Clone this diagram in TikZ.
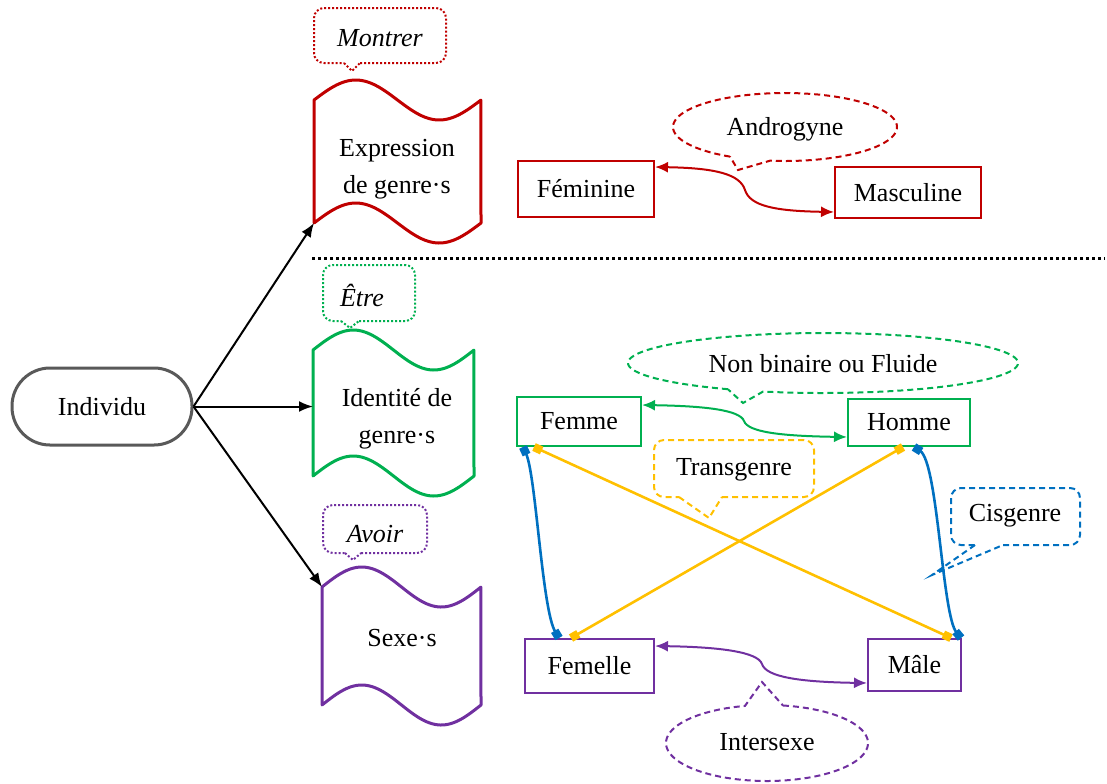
\documentclass[tikz,border=0pt]{standalone}
\usepackage{fontspec}
\setmainfont{Liberation Serif}
\usetikzlibrary{arrows.meta,calc}
\definecolor{cred}{HTML}{C00000}
\definecolor{cgreen}{HTML}{00B050}
\definecolor{cpurple}{HTML}{7030A0}
\definecolor{cblue}{HTML}{0070C0}
\definecolor{cyellow}{HTML}{FFC000}
\definecolor{cgray}{HTML}{595959}
\tikzset{
  txt/.style={inner sep=0pt, align=center},
  lbox/.style={draw, line width=1pt, inner sep=0pt},
  tape/.style={line width=1.5pt, line join=round},
  dotc/.style={line width=1pt, dash pattern=on 1pt off 1pt},
  dashc/.style={line width=1pt, dash pattern=on 3pt off 2pt},
  link/.style={line width=1pt, {Latex[length=6.5pt,width=5.5pt]}-{Latex[length=6.5pt,width=5.5pt]}},
  cross/.style={line width=1.3pt, {Square[length=4.2pt,width=4.2pt]}-{Square[length=4.2pt,width=4.2pt]}},
  feed/.style={line width=1pt, -{Latex[length=7pt,width=5.5pt]}}
}
\begin{document}
\begin{tikzpicture}[x=0.5pt,y=-0.5pt, every node/.style={font=\fontsize{13}{18.5}\selectfont}]
\useasboundingbox (0,0) rectangle (1107,783);

% Individu
\node[draw=cgray, line width=1.5pt, rounded corners=19pt, minimum width=90pt, minimum height=38.5pt, inner sep=0pt] (ind) at (102,406.5) {Individu};

% tapes
\draw[tape, draw=cred] plot[domain=0:1, samples=60] ({314+167*\x},{100-20*sin(360*\x)}) -- plot[domain=1:0, samples=60] ({314+167*\x},{223-20*sin(360*\x)}) -- cycle;
\coordinate (exprBL) at (314,223);
\node[txt] (expr) at (397,169) {Expression\\de genre·s};

\draw[tape, draw=cgreen] plot[domain=0:1, samples=60] ({313+161*\x},{350-20*sin(360*\x)}) -- plot[domain=1:0, samples=60] ({313+161*\x},{476-20*sin(360*\x)}) -- cycle;
\coordinate (identL) at (313,406.5);
\node[txt] (ident) at (397,419) {Identité de\\genre·s};

\draw[tape, draw=cpurple] plot[domain=0:1, samples=60] ({322+159*\x},{587-20*sin(360*\x)}) -- plot[domain=1:0, samples=60] ({322+159*\x},{705-20*sin(360*\x)}) -- cycle;
\coordinate (sexeTL) at (322,587);
\node[txt] (sexe) at (402,638) {Sexe·s};

\draw[feed] (ind.east) -- (exprBL);
\draw[feed] (ind.east) -- (identL);
\draw[feed] (ind.east) -- (sexeTL);

% dotted callouts
\draw[dotc, draw=cred, rounded corners=5pt] (360,63) -- (446,63) -- (446,8) -- (314,8) -- (314,63) -- (344,63);
\draw[dotc, draw=cred] (344,63) -- (352,71) -- (360,63);
\node[txt] (montrer) at (380,38) {\itshape Montrer};

\draw[dotc, draw=cgreen, rounded corners=5pt] (359,321) -- (415,321) -- (415,265) -- (323,265) -- (323,321) -- (341,321);
\draw[dotc, draw=cgreen] (341,321) -- (350,328) -- (359,321);
\node[txt] (etre) at (362,295) {\itshape Être};

\draw[dotc, draw=cpurple, rounded corners=5pt] (361,553) -- (427,553) -- (427,505) -- (323,505) -- (323,553) -- (345,553);
\draw[dotc, draw=cpurple] (345,553) -- (353,560) -- (361,553);
\node[txt] (avoir) at (375,534) {\itshape Avoir};

% separator
\draw[line width=1.5pt, dash pattern=on 1.5pt off 1.5pt] (312,258) -- (1105,258);

% expression
\node[lbox, draw=cred, minimum width=68pt, minimum height=28pt] (fem) at (586,189) {Féminine};
\node[lbox, draw=cred, minimum width=73pt, minimum height=25.5pt] (masc) at (908,192.5) {Masculine};
\draw[link, cred] ([yshift=-3.5pt]fem.north east) .. controls (715,168) and (740,174) .. (745,190) .. controls (750,206) and (775,211) .. ([yshift=3.5pt]masc.south west);
\draw[dashc, draw=cred] plot[domain=119.4:457.7, samples=120] ({785+112*cos(\x)},{127+34*sin(\x)}) -- (738,170) -- cycle;
\node[txt] (andro) at (785,129) {Androgyne};

% identity
\node[lbox, draw=cgreen, minimum width=62pt, minimum height=24.5pt] (femme) at (579,421.5) {Femme};
\node[lbox, draw=cgreen, minimum width=61pt, minimum height=23.5pt] (homme) at (909,422.5) {Homme};
\draw[link, cgreen] ([yshift=-4.5pt]femme.north east) .. controls (705,406) and (740,410) .. (744,421) .. controls (748,432) and (780,436) .. ([yshift=5pt]homme.south west);
\draw[dashc, draw=cgreen] plot[domain=119.2:467.9, samples=150] ({823+195*cos(\x)},{363+30*sin(\x)}) -- (743,403) -- cycle;
\node[txt] (nonbin) at (823,364) {Non binaire ou Fluide};

% sex
\node[lbox, draw=cpurple, minimum width=64.5pt, minimum height=27pt] (femelle) at (589.5,666) {Femelle};
\node[lbox, draw=cpurple, minimum width=46.5pt, minimum height=26pt] (male) at (914.5,665) {Mâle};
\draw[link, cpurple] ([yshift=-4pt]femelle.north east) .. controls (720,647) and (758,652) .. (762,664) .. controls (766,677) and (800,682) .. ([yshift=4.5pt]male.south west);
\draw[dashc, draw=cpurple] plot[domain=279.1:617.4, samples=120] ({767+101*cos(\x)},{743+38*sin(\x)}) -- (762,682) -- cycle;
\node[txt] (inter) at (767,742) {Intersexe};

% cross links
\draw[cross, cyellow] ([xshift=9pt]femme.south west) -- ([xshift=-5.5pt]male.north east);
\draw[cross, cyellow] ([xshift=-3pt]homme.south) -- ([xshift=23.5pt]femelle.north west);
\draw[cross, cblue] ([xshift=3.5pt]femme.south west) .. controls (536,475) and (542,610) .. ([xshift=17.5pt]femelle.north west);
\draw[cross, cblue] ([xshift=2.5pt]homme.south) .. controls (938,462) and (942,615) .. ([xshift=-0.5pt]male.north east);

% rounded dashed callouts
\draw[dashc, draw=cyellow, rounded corners=5pt] (722,497) -- (814,497) -- (814,440) -- (654,440) -- (654,497) -- (679,497);
\draw[dashc, draw=cyellow] (679,497) -- (709,518) -- (722,497);
\node[txt] (trans) at (734,470) {Transgenre};

\draw[dashc, draw=cblue, rounded corners=5pt] (1003,545) -- (1080,545) -- (1080,488) -- (951,488) -- (951,545) -- (975,545);
\draw[dashc, draw=cblue] (975,545) -- (932,575) -- (1003,545);
\node[txt] (cis) at (1015,516) {Cisgenre};
\end{tikzpicture}
\end{document}
